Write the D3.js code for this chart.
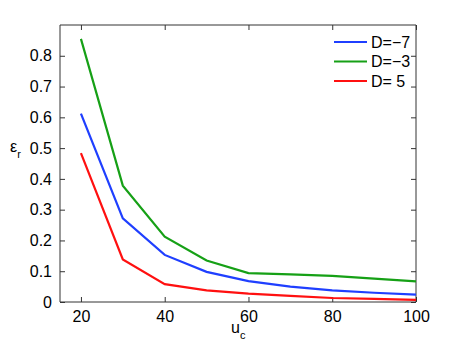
<!DOCTYPE html>
<html>
<head>
<meta charset="utf-8">
<script src="https://cdn.jsdelivr.net/npm/d3@7.9.0/dist/d3.min.js"></script>
<style>
  body { margin: 0; background: #fff; }
  text { font-family: "Liberation Sans", Arial, sans-serif; fill: #000; }
</style>
</head>
<body>
<svg id="chart" width="460" height="346"></svg>
<script>
const uc = [20, 30, 40, 50, 60, 70, 80, 90, 100];
const dMinus7 = [0.612, 0.272, 0.153, 0.098, 0.068, 0.050, 0.038, 0.030, 0.024];
const dMinus3 = [0.855, 0.378, 0.212, 0.135, 0.094, 0.090, 0.085, 0.076, 0.067];
const dPlus5 = [0.484, 0.138, 0.058, 0.038, 0.027, 0.020, 0.013, 0.010, 0.007];
const seriesNames = ["D=\u22127", "D=\u22123", "D= 5"];
const seriesColors = ["#1f3fff", "#16a016", "#ff1010"];
const xTicks = [20, 40, 60, 80, 100];
const yTicks = [0, 0.1, 0.2, 0.3, 0.4, 0.5, 0.6, 0.7, 0.8];

const svg = d3.select("#chart");
const plotL = 60, plotT = 25, plotR = 416, plotB = 302;

const x = d3.scaleLinear().domain([15, 100]).range([plotL, plotR]);
const y = d3.scaleLinear().domain([0, 0.9]).range([plotB, plotT]);

const series = [dMinus7, dMinus3, dPlus5].map((vals, i) => ({
  name: seriesNames[i],
  color: seriesColors[i],
  values: vals.map((v, j) => ({ u: uc[j], e: v })),
}));

// axes with inward ticks on all four sides
const tickFmt = (d) => (d === 0 ? "0" : d3.format(".1f")(d));
const axB = svg.append("g").attr("transform", `translate(0,${plotB})`)
  .call(d3.axisBottom(x).tickValues(xTicks).tickSize(-5).tickPadding(9));
const axT = svg.append("g").attr("transform", `translate(0,${plotT})`)
  .call(d3.axisTop(x).tickValues(xTicks).tickSize(-5).tickFormat(""));
const axL = svg.append("g").attr("transform", `translate(${plotL},0)`)
  .call(d3.axisLeft(y).tickValues(yTicks).tickSize(-5).tickPadding(8).tickFormat(tickFmt));
const axR = svg.append("g").attr("transform", `translate(${plotR},0)`)
  .call(d3.axisRight(y).tickValues(yTicks).tickSize(-5).tickFormat(""));

[axB, axT, axL, axR].forEach((g) => {
  g.select(".domain").attr("stroke", "#333").attr("stroke-width", 1);
  g.selectAll(".tick line").attr("stroke", "#333");
  g.selectAll("text").attr("font-size", 16).attr("font-family", "Liberation Sans, Arial, sans-serif");
});
// plain box edges, no outer tick stubs
axB.select(".domain").attr("d", `M${plotL},0H${plotR}`);
axT.select(".domain").attr("d", `M${plotL},0H${plotR}`);
axL.select(".domain").attr("d", `M0,${plotT}V${plotB}`);
axR.select(".domain").attr("d", `M0,${plotT}V${plotB}`);

const line = d3.line().x((d) => x(d.u)).y((d) => y(d.e));

svg.append("g")
  .selectAll("path")
  .data(series)
  .join("path")
  .attr("d", (d) => line(d.values))
  .attr("fill", "none")
  .attr("stroke", (d) => d.color)
  .attr("stroke-width", 2.2);

// legend
const legend = svg.append("g").attr("transform", "translate(334,42)");
const items = legend.selectAll("g").data(series).join("g")
  .attr("transform", (_, i) => `translate(0,${i * 19.5})`);
items.append("line").attr("x1", 0).attr("x2", 33)
  .attr("stroke", (d) => d.color).attr("stroke-width", 2.2);
items.append("text").attr("x", 37).attr("dy", "0.36em")
  .attr("font-size", 16).text((d) => d.name);

// axis labels
const yl = svg.append("text").attr("x", 10).attr("y", 152).attr("font-size", 16);
yl.append("tspan").text("\u03b5");
yl.append("tspan").attr("font-size", 11).attr("dy", 6).text("r");

const xl = svg.append("text").attr("x", 231).attr("y", 333).attr("font-size", 16);
xl.append("tspan").text("u");
xl.append("tspan").attr("font-size", 11).attr("dy", 6).text("c");
</script>
</body>
</html>
